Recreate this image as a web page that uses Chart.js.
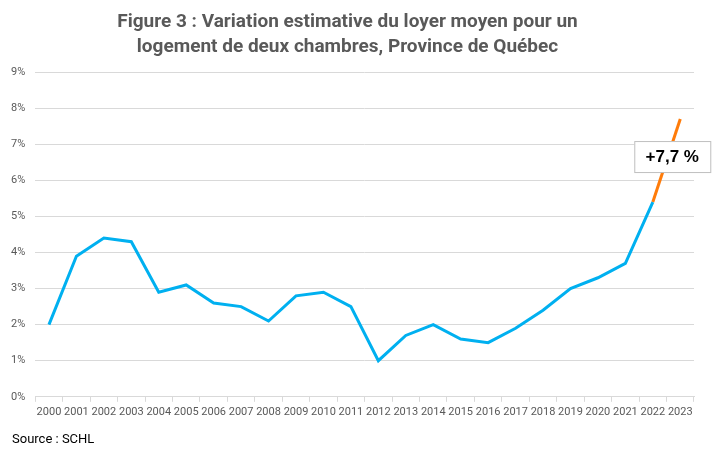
<!DOCTYPE html>
<html>
<head>
<meta charset="utf-8">
<script src="https://cdn.jsdelivr.net/npm/chart.js@4.4.1/dist/chart.umd.min.js"></script>
<style>
  html, body { margin: 0; padding: 0; background: #fff; }
  #wrap { width: 722px; height: 455px; position: relative; }
</style>
</head>
<body>
<div id="wrap"><canvas id="chart" width="722" height="455"></canvas></div>
<script>
// Données
const years = ['2000','2001','2002','2003','2004','2005','2006','2007','2008','2009','2010','2011',
               '2012','2013','2014','2015','2016','2017','2018','2019','2020','2021','2022','2023'];
const variation = [2.0, 3.9, 4.4, 4.3, 2.9, 3.1, 2.6, 2.5, 2.1, 2.8, 2.9, 2.5,
                   1.0, 1.7, 2.0, 1.6, 1.5, 1.9, 2.4, 3.0, 3.3, 3.7, 5.4, null];
const estimate = [null, null, null, null, null, null, null, null, null, null, null, null,
                  null, null, null, null, null, null, null, null, null, null, 5.4, 7.7];
const yTicks = [0, 1, 2, 3, 4, 5, 6, 7, 8, 9];
const labelText = '+7,7 %';
const sourceText = 'Source : SCHL';

const grey = '#595959';
const font = "Roboto, 'Open Sans', sans-serif";

// Encadré "+7,7 %" et source
const extras = {
    id: 'extras',
    afterDatasetsDraw(chart) {
        const ctx = chart.ctx;
        const x = chart.scales.x.getPixelForValue(23);
        const y = chart.scales.y.getPixelForValue(7.7);
        const w = 76, h = 31;
        const bx = x - 46, by = y + 22;
        ctx.save();
        ctx.fillStyle = '#fff';
        ctx.strokeStyle = '#bfbfbf';
        ctx.lineWidth = 1;
        ctx.fillRect(bx, by, w, h);
        ctx.strokeRect(bx + 0.5, by + 0.5, w, h);
        ctx.fillStyle = '#000';
        ctx.font = "bold 17px 'Liberation Sans', sans-serif";
        ctx.textAlign = 'center';
        ctx.textBaseline = 'middle';
        ctx.fillText(labelText, bx + w / 2, by + h / 2 + 1);
        ctx.fillStyle = '#000';
        ctx.font = "13px " + font;
        ctx.textAlign = 'left';
        ctx.fillText(sourceText, 12, 440);
        ctx.restore();
    }
};

new Chart(document.getElementById('chart'), {
    type: 'line',
    data: {
        labels: years,
        datasets: [
            { data: variation, borderColor: '#00b0f0', borderWidth: 3, pointRadius: 0, tension: 0, spanGaps: false },
            { data: estimate, borderColor: '#ff7c0a', borderWidth: 3, pointRadius: 0, tension: 0 }
        ]
    },
    options: {
        responsive: false,
        animation: false,
        layout: { padding: { top: 0, right: 28, bottom: 32, left: 1 } },
        plugins: {
            legend: { display: false },
            tooltip: { enabled: false },
            title: {
                display: true,
                text: ['Figure 3 : Variation estimative du loyer moyen pour un',
                       'logement de deux chambres, Province de Québec'],
                color: grey,
                font: { family: font, size: 19, weight: 'bold', lineHeight: 1.32 },
                padding: { top: 10, bottom: 12 }
            }
        },
        scales: {
            x: {
                offset: true,
                grid: { offset: true, drawOnChartArea: false, drawTicks: true, tickLength: 5, color: '#d9d9d9' },
                border: { color: '#d9d9d9' },
                ticks: { color: grey, font: { family: font, size: 11 }, maxRotation: 0, autoSkip: false, padding: 4 }
            },
            y: {
                min: 0, max: 9,
                afterBuildTicks(axis) { axis.ticks = yTicks.map(v => ({ value: v })); },
                grid: { color: '#d9d9d9', drawTicks: false },
                border: { display: false },
                ticks: { color: grey, font: { family: font, size: 11 }, padding: 10, callback: v => v + '%' }
            }
        }
    },
    plugins: [extras]
});
</script>
</body>
</html>
